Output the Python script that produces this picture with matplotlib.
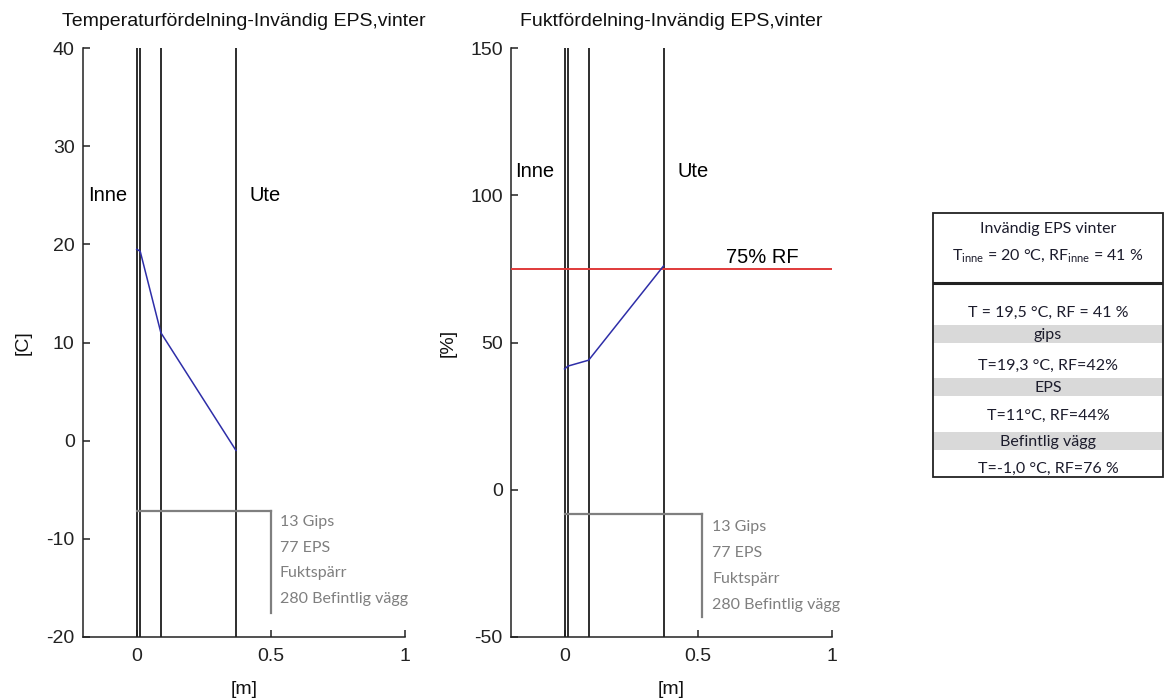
import matplotlib
matplotlib.use("Agg")
import matplotlib.pyplot as plt
from matplotlib.patches import Rectangle

# Wall build-up, inside -> outside: layer boundaries [m]
layer_edges = [0.0, 0.013, 0.09, 0.37]
layer_names = ["13 Gips", "77 EPS", "Fuktspärr", "280 Befintlig vägg"]

# Values at each layer boundary
temperature = [19.5, 19.3, 11.0, -1.0]   # [C]
humidity = [41, 42, 44, 76]              # [%] RF
rf_limit = 75

# Indoor climate
T_inne = 20
RF_inne = 41

temp_ticks = [-20, -10, 0, 10, 20, 30, 40]
rf_ticks = [-50, 0, 50, 100, 150]
x_ticks = [0, 0.5, 1]
x_ticklabels = ["0", "0.5", "1"]

table_title = "Invändig EPS vinter"
table_rows = [
    "T = 19,5 °C, RF = 41 %",
    "gips",
    "T=19,3 °C, RF=42%",
    "EPS",
    "T=11°C, RF=44%",
    "Befintlig vägg",
    "T=-1,0 °C, RF=76 %",
]

MAIN_FONT = "Liberation Sans"
NOTE_FONT = "Lato"
plt.rcParams["font.family"] = [MAIN_FONT, "DejaVu Sans"]

fig = plt.figure(figsize=(11.66, 6.98), dpi=100)
ax_t = fig.add_axes([0.0712, 0.0874, 0.2762, 0.8438])
ax_f = fig.add_axes([0.4383, 0.0874, 0.2753, 0.8438])


def style_axes(ax, yticks, title, ylabel, ylabel_x):
    ax.set_xlim(-0.2, 1)
    ax.set_ylim(yticks[0], yticks[-1])
    ax.set_xticks(x_ticks)
    ax.set_xticklabels(x_ticklabels)
    ax.set_yticks(yticks)
    ax.set_yticklabels([str(v) for v in yticks])
    for side in ("top", "right"):
        ax.spines[side].set_visible(False)
    for side in ("left", "bottom"):
        ax.spines[side].set_linewidth(1.1)
        ax.spines[side].set_color("#222222")
    ax.tick_params(direction="in", length=5, width=1.1, labelsize=14,
                   colors="#222222")
    ax.tick_params(axis="y", pad=6)
    ax.tick_params(axis="x", pad=8)
    ax.set_title(title, fontsize=14, pad=16, color="#111111")
    ax.set_xlabel("[m]", fontsize=14, color="#111111")
    ax.xaxis.set_label_coords(0.5, -0.075)
    ax.set_ylabel(ylabel, fontsize=14, color="#111111")
    ax.yaxis.set_label_coords(ylabel_x, 0.5)
    for x in layer_edges:
        ax.axvline(x, color="#1c1c1c", lw=1.3, zorder=2)


def layer_key(ax, y_top, y_bottom, x_end, text_x, text_ys):
    grey = "#7f7f7f"
    ax.plot([layer_edges[0], x_end], [y_top, y_top], color=grey, lw=1.6, zorder=3)
    ax.plot([x_end, x_end], [y_top, y_bottom], color=grey, lw=1.6, zorder=3)
    for name, y in zip(layer_names, text_ys):
        ax.text(text_x, y, name, family=NOTE_FONT, fontsize=11.5,
                color=grey, va="center", ha="left")


# Temperature distribution
style_axes(ax_t, temp_ticks, "Temperaturfördelning-Invändig EPS,vinter", "[C]", -0.16)
ax_t.plot(layer_edges, temperature, color="#2e2ea8", lw=1.1, zorder=4)
ax_t.text(-0.18, 25, "Inne", fontsize=14.5, va="center", ha="left")
ax_t.text(0.42, 25, "Ute", fontsize=14.5, va="center", ha="left")
layer_key(ax_t, -7.2, -17.6, 0.5, 0.533, [-8.3, -10.9, -13.5, -16.1])

# Moisture distribution
style_axes(ax_f, rf_ticks, "Fuktfördelning-Invändig EPS,vinter", "[%]", -0.17)
ax_f.plot([-0.2, 1], [rf_limit, rf_limit], color="#e03a3a", lw=1.4, zorder=3)
ax_f.text(0.603, rf_limit + 0.5, f"{rf_limit}% RF", fontsize=14.5,
          va="bottom", ha="left")
ax_f.plot(layer_edges, humidity, color="#2e2ea8", lw=1.1, zorder=4)
ax_f.text(-0.185, 108, "Inne", fontsize=14.5, va="center", ha="left")
ax_f.text(0.424, 108, "Ute", fontsize=14.5, va="center", ha="left")
layer_key(ax_f, -8.2, -43.2, 0.515, 0.553, [-12.8, -21.6, -30.4, -39.2])

# Summary table (layout units: pixels from the top edge of the box)
ax_tab = fig.add_axes([0.8002, 0.3166, 0.1972, 0.3782])
ax_tab.set_xlim(0, 230)
ax_tab.set_ylim(264, 0)
ax_tab.axis("off")
ink = "#1c1c2c"
tab_size = 11.5
ax_tab.add_patch(Rectangle((0, 0), 230, 264, fill=False, ec="#222222", lw=1.3,
                           clip_on=False, zorder=5))
ax_tab.plot([0, 230], [70, 70], color="#222222", lw=2.2, zorder=5)
ax_tab.text(115, 16, table_title, family=NOTE_FONT, fontsize=tab_size,
            color=ink, ha="center", va="center")
ax_tab.text(115, 43,
            f"T$\\mathregular{{_{{inne}}}}$ = {T_inne} °C, RF$\\mathregular{{_{{inne}}}}$ = {RF_inne} %",
            family=NOTE_FONT, fontsize=tab_size, color=ink, ha="center", va="center")
row_y = [100, 122, 153, 175, 203, 229, 256]
band_span = 18.5
for i, (label, y) in enumerate(zip(table_rows, row_y)):
    if i % 2 == 1:
        ax_tab.add_patch(Rectangle((0.8, y - 1 - band_span / 2), 228.4, band_span,
                                   fc="#d9d9d9", ec="none", zorder=1))
    ax_tab.text(115, y, label, family=NOTE_FONT, fontsize=tab_size, color=ink,
                ha="center", va="center", zorder=6)

fig.savefig("out.png", dpi=100)
